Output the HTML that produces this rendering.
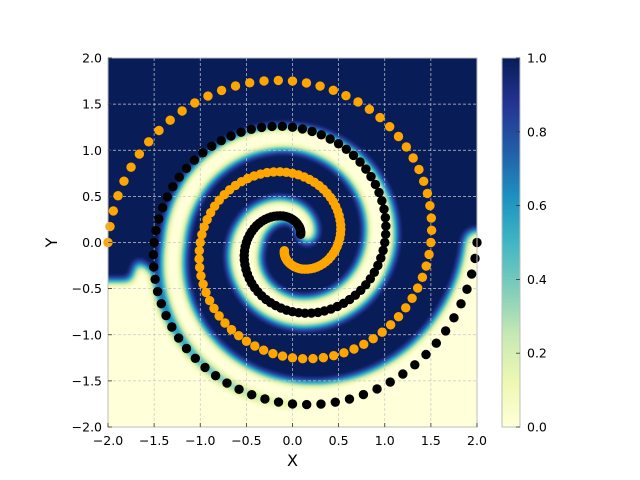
<!DOCTYPE html>
<html><head><meta charset="utf-8">
<style>
html,body{margin:0;padding:0;background:#fff;}
#wrap{position:relative;width:640px;height:480px;overflow:hidden;font-family:"DejaVu Sans","Liberation Sans",sans-serif;}
#heat{position:absolute;left:108px;top:58px;width:369px;height:369px;}
#cb{position:absolute;left:502px;top:58px;width:18px;height:369px;}
svg{position:absolute;left:0;top:0;}
</style></head>
<body>
<div id="wrap">
<canvas id="heat" width="369" height="369"></canvas>
<canvas id="cb" width="18" height="369"></canvas>
<svg id="svg" width="640" height="480"></svg>
</div>
<script>
// ---- data (polar: angle in degrees, radius) ----
const blackAngle = [45,50,55,60,65,70,75,80,85,90,95,100,105,110,115,120,125,130,135,140,145,150,155,160,165,170,175,180,185,190,195,200,205,210,215,220,225,230,235,240,245,250,255,260,265,270,275,280,285,290,295,300,305,310,315,320,325,330,335,340,345,350,355,360,365,370,375,380,385,390,395,400,405,410,415,420,425,430,435,440,445,450,455,460,465,470,475,480,485,490,495,500,505,510,515,520,525,530,535,540,545,550,555,560,565,570,575,580,585,590,595,600,605,610,615,620,625,630,635,640,645,650,655,660,665,670,675,680,685,690,695,700,705,710,715,720];
const orangeAngle = [225,230,235,240,245,250,255,260,265,270,275,280,285,290,295,300,305,310,315,320,325,330,335,340,345,350,355,360,365,370,375,380,385,390,395,400,405,410,415,420,425,430,435,440,445,450,455,460,465,470,475,480,485,490,495,500,505,510,515,520,525,530,535,540,545,550,555,560,565,570,575,580,585,590,595,600,605,610,615,620,625,630,635,640,645,650,655,660,665,670,675,680,685,690,695,700,705,710,715,720,725,730,735,740,745,750,755,760,765,770,775,780,785,790,795,800,805,810,815,820,825,830,835,840,845,850,855,860,865,870,875,880,885,890,895,900];
const blackRadius = [0.125,0.139,0.153,0.167,0.181,0.194,0.208,0.222,0.236,0.25,0.264,0.278,0.292,0.306,0.319,0.333,0.347,0.361,0.375,0.389,0.403,0.417,0.431,0.444,0.458,0.472,0.486,0.5,0.514,0.528,0.542,0.556,0.569,0.583,0.597,0.611,0.625,0.639,0.653,0.667,0.681,0.694,0.708,0.722,0.736,0.75,0.764,0.778,0.792,0.806,0.819,0.833,0.847,0.861,0.875,0.889,0.903,0.917,0.931,0.944,0.958,0.972,0.986,1.0,1.014,1.028,1.042,1.056,1.069,1.083,1.097,1.111,1.125,1.139,1.153,1.167,1.181,1.194,1.208,1.222,1.236,1.25,1.264,1.278,1.292,1.306,1.319,1.333,1.347,1.361,1.375,1.389,1.403,1.417,1.431,1.444,1.458,1.472,1.486,1.5,1.514,1.528,1.542,1.556,1.569,1.583,1.597,1.611,1.625,1.639,1.653,1.667,1.681,1.694,1.708,1.722,1.736,1.75,1.764,1.778,1.792,1.806,1.819,1.833,1.847,1.861,1.875,1.889,1.903,1.917,1.931,1.944,1.958,1.972,1.986,2.0];
const orangeRadius = [0.125,0.139,0.153,0.167,0.181,0.194,0.208,0.222,0.236,0.25,0.264,0.278,0.292,0.306,0.319,0.333,0.347,0.361,0.375,0.389,0.403,0.417,0.431,0.444,0.458,0.472,0.486,0.5,0.514,0.528,0.542,0.556,0.569,0.583,0.597,0.611,0.625,0.639,0.653,0.667,0.681,0.694,0.708,0.722,0.736,0.75,0.764,0.778,0.792,0.806,0.819,0.833,0.847,0.861,0.875,0.889,0.903,0.917,0.931,0.944,0.958,0.972,0.986,1.0,1.014,1.028,1.042,1.056,1.069,1.083,1.097,1.111,1.125,1.139,1.153,1.167,1.181,1.194,1.208,1.222,1.236,1.25,1.264,1.278,1.292,1.306,1.319,1.333,1.347,1.361,1.375,1.389,1.403,1.417,1.431,1.444,1.458,1.472,1.486,1.5,1.514,1.528,1.542,1.556,1.569,1.583,1.597,1.611,1.625,1.639,1.653,1.667,1.681,1.694,1.708,1.722,1.736,1.75,1.764,1.778,1.792,1.806,1.819,1.833,1.847,1.861,1.875,1.889,1.903,1.917,1.931,1.944,1.958,1.972,1.986,2.0];
const xTicks = [-2.0,-1.5,-1.0,-0.5,0.0,0.5,1.0,1.5,2.0];
const yTicks = [-2.0,-1.5,-1.0,-0.5,0.0,0.5,1.0,1.5,2.0];
const cbTicks = [0.0,0.2,0.4,0.6,0.8,1.0];

// ---- axes ----
const L=108, T=58, W=369, H=369;
const xMin=-2, xMax=2, yMin=-2, yMax=2;
function X(v){return L+(v-xMin)/(xMax-xMin)*W;}
function Y(v){return T+(yMax-v)/(yMax-yMin)*H;}
function polar(a,r){const t=a*Math.PI/180;return [r*Math.cos(t), r*Math.sin(t)];}

// YlGnBu colormap
const cmap=[[255,255,217],[237,248,177],[199,233,180],[127,205,187],[65,182,196],[29,145,192],[34,94,168],[37,52,148],[8,29,88]];
function cm(v){v=Math.max(0,Math.min(1,v));const p=v*8,i=Math.min(7,Math.floor(p)),f=p-i;const a=cmap[i],b=cmap[i+1];return [a[0]+(b[0]-a[0])*f,a[1]+(b[1]-a[1])*f,a[2]+(b[2]-a[2])*f];}

// ---- heatmap (approximate model field) ----
(function(){
  const m=document.createElement('canvas');m.width=W;m.height=H;
  const c=m.getContext('2d');
  c.fillStyle='#000';c.fillRect(0,0,W,H);
  c.fillStyle='#fff';c.strokeStyle='#fff';c.lineCap='round';
  const sx=v=>X(v)-L, sy=v=>Y(v)-T, su=W/4;
  const kA=[30,90,180,270,360,450,540,630,720], kD=[0.1,0.09,0.0,0.0,-0.05,-0.12,-0.22,-0.12,0.0], kW=[0.18,0.2,0.33,0.3,0.32,0.24,0.23,0.24,0.26];
  function interp(arr,a){for(let i=0;i<kA.length-1;i++){if(a<=kA[i+1]){const f=(a-kA[i])/(kA[i+1]-kA[i]);return arr[i]+(arr[i+1]-arr[i])*Math.max(0,f);}}return arr[arr.length-1];}
  for(let a=30;a<720;a+=2){
    const r1=a/360+interp(kD,a), r2=(a+2)/360+interp(kD,a+2);
    const p1=polar(a,r1),p2=polar(a+2,r2);
    c.lineWidth=interp(kW,a)*su;
    c.beginPath();c.moveTo(sx(p1[0]),sy(p1[1]));c.lineTo(sx(p2[0]),sy(p2[1]));c.stroke();
  }
  c.beginPath();
  c.moveTo(sx(-2.2),sy(-2.2));c.lineTo(sx(-2.2),sy(-0.42));c.lineTo(sx(-1.75),sy(-0.42));c.lineTo(sx(-1.68),sy(-0.2));
  for(let a=552;a<=720;a+=4){const p=polar(a,a/360+0.02);c.lineTo(sx(p[0]),sy(p[1]));}
  c.lineTo(sx(2.2),sy(-0.05));c.lineTo(sx(2.2),sy(-2.2));c.closePath();c.fill();
  const h=document.getElementById('heat'),hc=h.getContext('2d');
  hc.filter='blur(5px)';hc.drawImage(m,0,0);hc.filter='none';
  const img=hc.getImageData(0,0,W,H),d=img.data;
  for(let i=0;i<d.length;i+=4){let v=1-d[i]/255;v=Math.max(0,Math.min(1,(v-0.5)*1.1+0.5));const col=cm(v);d[i]=col[0];d[i+1]=col[1];d[i+2]=col[2];d[i+3]=255;}
  hc.putImageData(img,0,0);
  const cb=document.getElementById('cb').getContext('2d');
  for(let y=0;y<H;y++){const col=cm(1-y/(H-1));cb.fillStyle='rgb('+col.map(Math.round).join(',')+')';cb.fillRect(0,y,18,1);}
})();

// ---- svg ----
const NS='http://www.w3.org/2000/svg', svg=document.getElementById('svg');
function mk(tag,attrs,parent){const e=document.createElementNS(NS,tag);for(const k in attrs)e.setAttribute(k,attrs[k]);(parent||svg).appendChild(e);return e;}
const grid=mk('g',{});


xTicks.forEach(v=>{const l=mk('line',{x1:X(v),x2:X(v),y1:T,y2:T+H,stroke:'#c8c8c8','stroke-width':0.7,'stroke-dasharray':'3,2'},grid);

});
yTicks.forEach(v=>{const l=mk('line',{x1:L,x2:L+W,y1:Y(v),y2:Y(v),stroke:'#c8c8c8','stroke-width':0.7,'stroke-dasharray':'3,2'},grid);

});

const gB=mk('g',{});


blackAngle.forEach((a,i)=>{const p=polar(a,blackRadius[i]);const c=mk('circle',{cx:X(p[0]),cy:Y(p[1]),r:4.7,fill:'#000'},gB);

});
const gO=mk('g',{});


orangeAngle.forEach((a,i)=>{const p=polar(a,orangeRadius[i]);const c=mk('circle',{cx:X(p[0]),cy:Y(p[1]),r:4.7,fill:'#ffa500'},gO);

});

const frame=mk('rect',{x:L,y:T,width:W,height:H,fill:'none',stroke:'#bcbcbc','stroke-width':1});



const ax=mk('g',{'font-size':'12.5px',fill:'#000'});


function fmt(v){return (v<0?'\u2212':'')+Math.abs(v).toFixed(1);}
xTicks.forEach(v=>{
  const t=mk('line',{x1:X(v),x2:X(v),y1:T+H,y2:T+H-4,stroke:'#333','stroke-width':0.8},ax);
  
  
  const s=mk('text',{x:X(v),y:T+H+18,'text-anchor':'middle'},ax);s.textContent=fmt(v);
  
  
});
yTicks.forEach(v=>{
  const t=mk('line',{x1:L,x2:L+4,y1:Y(v),y2:Y(v),stroke:'#333','stroke-width':0.8},ax);
  
  
  const s=mk('text',{x:L-6,y:Y(v)+4.5,'text-anchor':'end'},ax);s.textContent=fmt(v);
  
  
});
const xl=mk('text',{x:X(0),y:466,'text-anchor':'middle','font-size':'16px'});xl.textContent='X';


const yl=mk('text',{x:57,y:Y(0),'text-anchor':'middle','font-size':'16px',transform:'rotate(-90 57 '+Y(0)+')'});yl.textContent='Y';



const CBX=502, CBW=18;
const cbf=mk('rect',{x:CBX,y:T,width:CBW,height:H,fill:'none',stroke:'#bcbcbc','stroke-width':1});


const cbg=mk('g',{'font-size':'12.5px'});


cbTicks.forEach(v=>{
  const y=T+(1-v)*H;
  const t=mk('line',{x1:CBX+CBW,x2:CBX+CBW-4,y1:y,y2:y,stroke:'#333','stroke-width':0.8},cbg);
  
  
  const s=mk('text',{x:CBX+CBW+7,y:y+4.5},cbg);s.textContent=v.toFixed(1);
  
  
});
</script>
</body></html>
